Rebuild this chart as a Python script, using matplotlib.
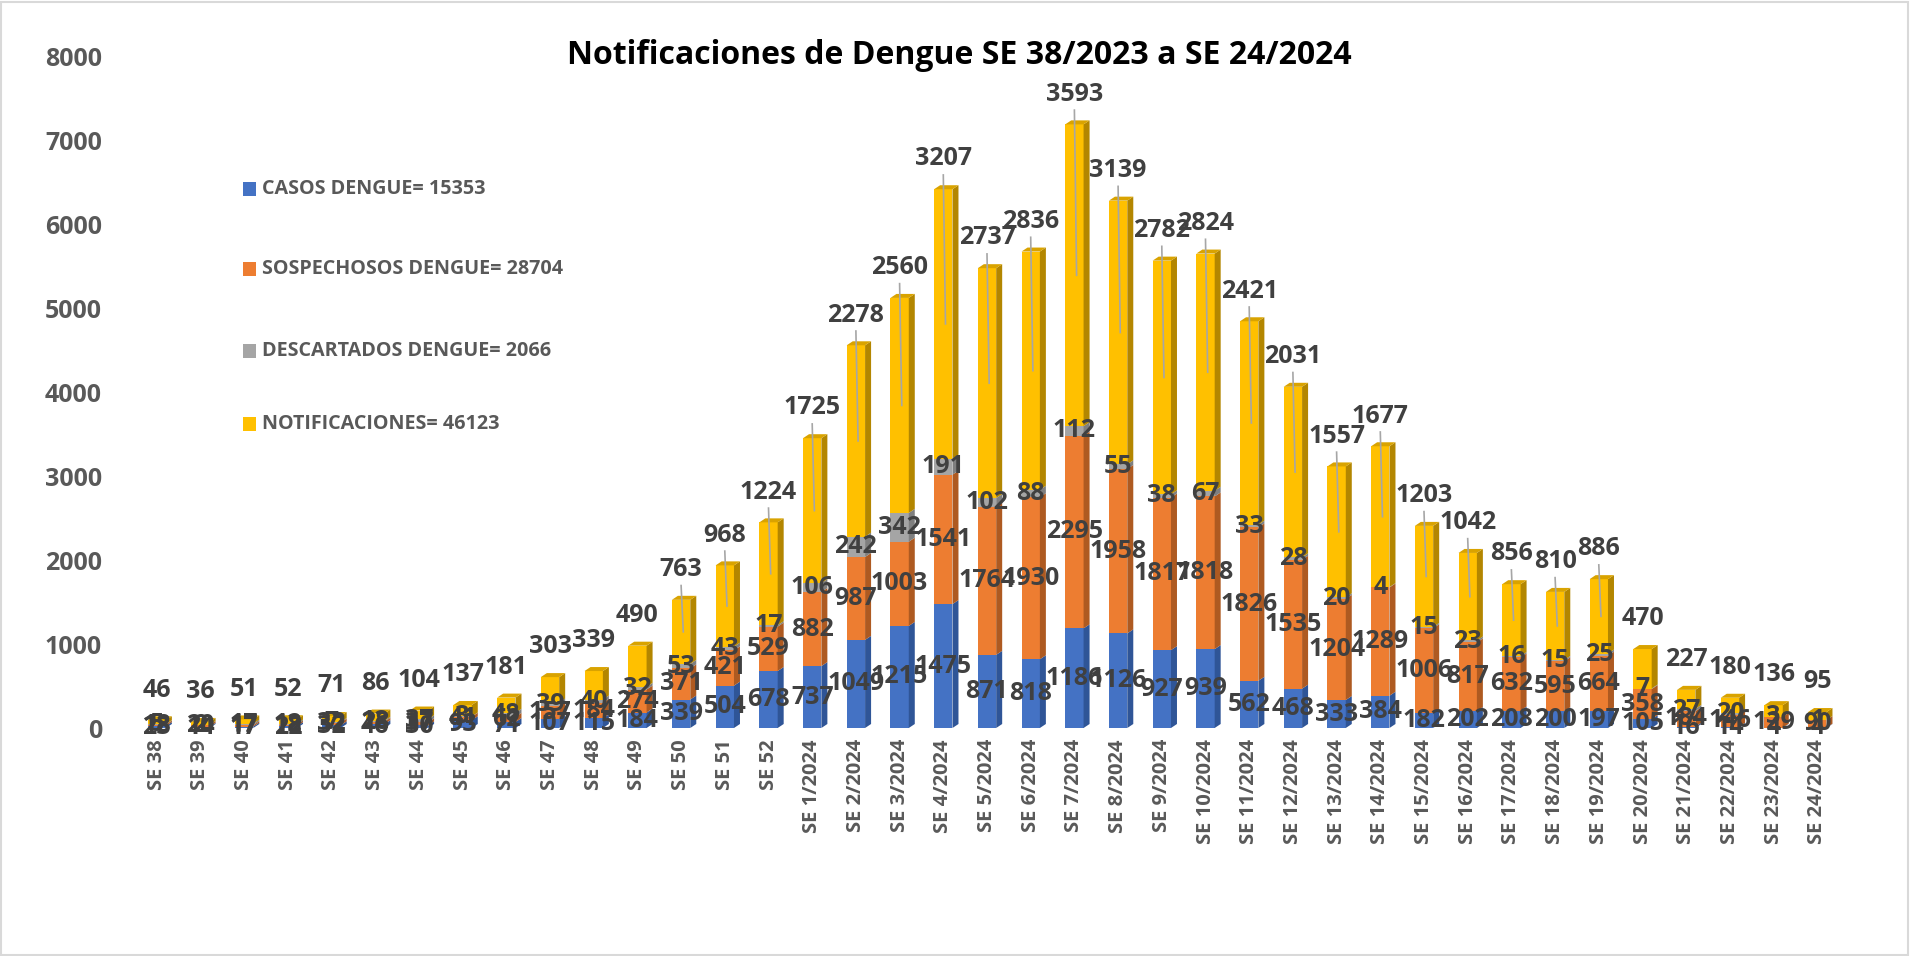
import numpy as np
import matplotlib
matplotlib.use("Agg")
import matplotlib.pyplot as plt
from matplotlib.patches import Polygon, Rectangle

plt.rcParams['font.family'] = ['Open Sans', 'DejaVu Sans']

# Data
semanas = ['SE 38', 'SE 39', 'SE 40', 'SE 41', 'SE 42', 'SE 43', 'SE 44', 'SE 45',
           'SE 46', 'SE 47', 'SE 48', 'SE 49', 'SE 50', 'SE 51', 'SE 52'] + \
          ['SE %d/2024' % i for i in range(1, 25)]

casos = [23, 14, 17, 22, 32, 46, 30, 93, 71, 107, 115, 184, 339, 504, 678,
         737, 1049, 1215, 1475, 871, 818, 1186, 1126, 927, 939, 562, 468, 333, 384,
         182, 202, 208, 200, 197, 105, 16, 14, 4, 4]
sospechosos = [18, 20, 17, 18, 32, 28, 37, 41, 62, 157, 184, 274, 371, 421, 529,
               882, 987, 1003, 1541, 1764, 1930, 2295, 1958, 1817, 1818, 1826, 1535, 1204, 1289,
               1006, 817, 632, 595, 664, 358, 184, 146, 129, 90]
descartados = [5, 2, 17, 12, 7, 12, 37, 3, 48, 39, 40, 32, 53, 43, 17,
               106, 242, 342, 191, 102, 88, 112, 55, 38, 67, 33, 28, 20, 4,
               15, 23, 16, 15, 25, 7, 27, 20, 3, 1]
notificaciones = [46, 36, 51, 52, 71, 86, 104, 137, 181, 303, 339, 490, 763, 968, 1224,
                  1725, 2278, 2560, 3207, 2737, 2836, 3593, 3139, 2782, 2824, 2421, 2031, 1557, 1677,
                  1203, 1042, 856, 810, 886, 470, 227, 180, 136, 95]

legend_labels = ['CASOS DENGUE= 15353', 'SOSPECHOSOS DENGUE= 28704',
                 'DESCARTADOS DENGUE= 2066', 'NOTIFICACIONES= 46123']

front = ['#4472C4', '#ED7D31', '#A5A5A5', '#FFC000']
side = ['#2F5597', '#AE5A21', '#7F7F7F', '#B38600']
top_col = '#D9A300'
label_col = '#404040'
axis_col = '#595959'

W, H = 1916, 956
fig = plt.figure(figsize=(W / 100, H / 100), dpi=100)
ax_l, ax_r, ax_b, ax_t = 113, 1861, 728, 56
ax = fig.add_axes([ax_l / W, 1 - ax_b / H, (ax_r - ax_l) / W, (ax_b - ax_t) / H])

n = len(semanas)
x = np.arange(n)
ax.set_xlim(-1, n)
ax.set_ylim(0, 8000)

# pixel -> data conversion for the 3D faces
px_x = (n + 1) / (ax_r - ax_l)
px_y = 8000 / (ax_b - ax_t)
dx, dy = 6 * px_x, 4 * px_y
w = 0.42

series = [np.array(casos), np.array(sospechosos), np.array(descartados), np.array(notificaciones)]
bottom = np.zeros(n)
for k, vals in enumerate(series):
    ax.bar(x, vals, w, bottom=bottom, color=front[k], linewidth=0, zorder=2)
    for i in range(n):
        b, h = bottom[i], vals[i]
        xr = x[i] + w / 2
        ax.add_patch(Polygon([(xr, b), (xr + dx, b + dy), (xr + dx, b + h + dy), (xr, b + h)],
                             closed=True, facecolor=side[k], edgecolor='none', zorder=2))
    bottom = bottom + vals

# top faces
for i in range(n):
    t = bottom[i]
    xl, xr = x[i] - w / 2, x[i] + w / 2
    ax.add_patch(Polygon([(xl, t), (xl + dx, t + dy), (xr + dx, t + dy), (xr, t)],
                         closed=True, facecolor=top_col, edgecolor='none', zorder=2))

# segment labels
fs = 18
bottom = np.zeros(n)
for k, vals in enumerate(series[:3]):
    for i in range(n):
        ax.text(x[i], bottom[i] + vals[i] / 2, str(vals[i]), ha='center', va='center',
                fontsize=fs, fontweight='bold', color=label_col, zorder=5)
    bottom = bottom + vals

# notification labels above the bar with leader lines
for i in range(n):
    total = bottom[i] + notificaciones[i]
    ly = total + 360
    ax.text(x[i], ly, str(notificaciones[i]), ha='center', va='center',
            fontsize=fs, fontweight='bold', color=label_col, zorder=5)
    if notificaciones[i] >= 700:
        ax.plot([x[i], x[i] + 0.05], [ly - 190, bottom[i] + notificaciones[i] * 0.5],
                color='#A6A6A6', lw=1.2, zorder=4)

ax.set_xticks(x)
ax.set_xticklabels(semanas, rotation=90, fontsize=14.5, fontweight='bold', color=axis_col)
ax.set_yticks(np.arange(0, 8001, 1000))
ax.set_yticklabels([str(v) for v in range(0, 8001, 1000)], fontsize=18,
                   fontweight='bold', color=axis_col)
ax.tick_params(length=0, pad=8)
for s in ax.spines.values():
    s.set_visible(False)

fig.text(959 / W, 1 - 55 / H, 'Notificaciones de Dengue SE 38/2023 a SE 24/2024',
         ha='center', va='center', fontsize=23, fontweight='bold', color='black')

# legend
leg_y = [189, 269, 351, 424]
for k in range(4):
    fig.add_artist(Rectangle((243 / W, 1 - (leg_y[k] + 7) / H), 13 / W, 14 / H,
                             transform=fig.transFigure, facecolor=front[k], edgecolor='none'))
    fig.text(262 / W, 1 - leg_y[k] / H, legend_labels[k], ha='left', va='center',
             fontsize=14.2, fontweight='bold', color=axis_col)

# chart border
fig.add_artist(Rectangle((1 / W, 1 / H), 1907 / W, 953 / H, transform=fig.transFigure,
                         facecolor='none', edgecolor='#D9D9D9', lw=1.5))

fig.savefig('out.png', dpi=100)
